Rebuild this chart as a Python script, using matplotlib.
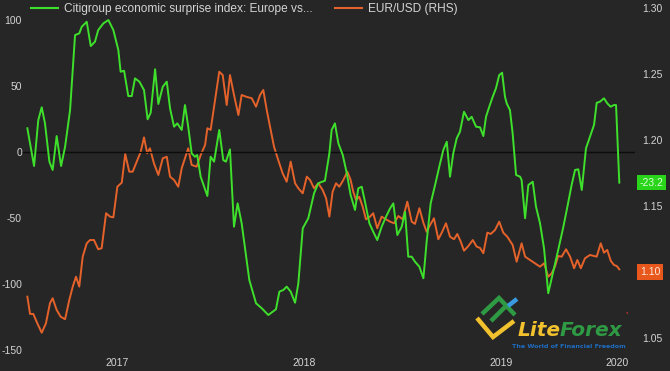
import matplotlib
matplotlib.use("Agg")
import matplotlib.pyplot as plt
from matplotlib.lines import Line2D

# Citigroup economic surprise index: Europe vs US (left axis)
esi_t = [2017.028, 2017.063, 2017.085, 2017.103, 2017.120, 2017.143, 2017.160, 2017.181, 2017.204, 2017.225,
         2017.251, 2017.277, 2017.299, 2017.312, 2017.338, 2017.359, 2017.381, 2017.398, 2017.425, 2017.451,
         2017.477, 2017.503, 2017.515, 2017.533, 2017.555, 2017.573, 2017.590, 2017.613, 2017.637, 2017.656,
         2017.672, 2017.695, 2017.712, 2017.735, 2017.756, 2017.773, 2017.794, 2017.811, 2017.834, 2017.851,
         2017.868, 2017.886, 2017.903, 2017.915, 2017.933, 2017.968, 2017.985, 2018.003, 2018.030, 2018.051,
         2018.065, 2018.086, 2018.107, 2018.126, 2018.147, 2018.187, 2018.222, 2018.252, 2018.286, 2018.326,
         2018.344, 2018.365, 2018.382, 2018.403, 2018.426, 2018.443, 2018.466, 2018.495, 2018.525, 2018.547,
         2018.582, 2018.605, 2018.617, 2018.634, 2018.652, 2018.675, 2018.696, 2018.716, 2018.739, 2018.756,
         2018.774, 2018.791, 2018.814, 2018.834, 2018.855, 2018.878, 2018.901, 2018.922, 2018.939, 2018.960,
         2018.983, 2019.000, 2019.017, 2019.035, 2019.052, 2019.075, 2019.096, 2019.113, 2019.134, 2019.157,
         2019.179, 2019.200, 2019.218, 2019.235, 2019.252, 2019.270, 2019.287, 2019.308, 2019.331, 2019.348,
         2019.371, 2019.392, 2019.409, 2019.423, 2019.440, 2019.458, 2019.475, 2019.492, 2019.507, 2019.522,
         2019.531, 2019.548, 2019.562, 2019.580, 2019.601, 2019.609, 2019.627, 2019.644, 2019.667, 2019.684,
         2019.705, 2019.726, 2019.748, 2019.774, 2019.800, 2019.827, 2019.848, 2019.870, 2019.888, 2019.905,
         2019.923, 2019.945, 2019.966, 2019.987, 2020.001, 2020.018, 2020.039, 2020.056, 2020.074, 2020.091,
         2020.102, 2020.119]
esi_v = [18.0, -10.6, 24.2, 33.9, 21.7, -7.3, -13.6, 12.1, -10.6, 4.0,
         31.8, 88.6, 89.9, 94.9, 98.7, 80.3, 83.6, 92.4, 97.5, 100.0,
         92.4, 77.3, 60.8, 61.6, 42.4, 42.4, 55.8, 53.3, 47.0, 24.8,
         29.8, 62.7, 36.4, 49.5, 53.3, 33.1, 19.2, 21.7, 16.7, 35.6,
         19.2, -1.0, -3.6, -2.3, -18.7, -33.3, -3.6, -7.3, 16.7, -6.1,
         -7.3, 2.0, -56.6, -38.9, -54.0, -97.0, -114.6, -118.4, -123.5, -119.2,
         -105.8, -104.5, -102.0, -105.8, -114.2, -99.5, -57.8, -50.2, -31.3, -23.7,
         -21.7, -1.0, 16.7, 21.7, 6.6, -2.3, -16.1, -32.6, -43.9, -27.5,
         -26.3, -37.7, -54.0, -60.4, -66.7, -56.6, -49.0, -42.7, -38.9, -62.9,
         -56.6, -45.2, -79.3, -79.3, -83.1, -86.9, -95.7, -68.0, -38.9, -25.0,
         -11.1, 1.5, 7.8, -18.7, -1.0, 10.4, 15.4, 30.5, 24.2, 26.7,
         19.2, 18.7, 12.1, 26.7, 34.3, 41.9, 48.3, 58.3, 60.1, 41.9,
         36.9, 31.8, 14.2, -17.4, -18.7, -21.2, -50.2, -25.0, -22.5, -41.4,
         -54.0, -73.0, -107.0, -90.7, -74.2, -56.6, -41.4, -25.0, -13.6, -13.1,
         -28.8, 2.8, 11.6, 20.5, 37.3, 38.1, 40.7, 36.9, 34.3, 35.6,
         35.6, -23.2]

# EUR/USD (right axis)
fx_t = [2017.028, 2017.042, 2017.059, 2017.080, 2017.103, 2017.125, 2017.146, 2017.160, 2017.181, 2017.202,
        2017.225, 2017.247, 2017.265, 2017.282, 2017.299, 2017.317, 2017.338, 2017.355, 2017.376, 2017.398,
        2017.416, 2017.439, 2017.460, 2017.477, 2017.498, 2017.521, 2017.539, 2017.560, 2017.578, 2017.599,
        2017.620, 2017.637, 2017.654, 2017.668, 2017.689, 2017.712, 2017.735, 2017.756, 2017.773, 2017.794,
        2017.816, 2017.834, 2017.868, 2017.886, 2017.912, 2017.933, 2017.956, 2017.968, 2017.985, 2018.013,
        2018.030, 2018.048, 2018.069, 2018.086, 2018.107, 2018.130, 2018.147, 2018.170, 2018.200, 2018.222,
        2018.243, 2018.260, 2018.278, 2018.295, 2018.316, 2018.338, 2018.361, 2018.382, 2018.403, 2018.426,
        2018.443, 2018.466, 2018.487, 2018.504, 2018.525, 2018.547, 2018.570, 2018.588, 2018.605, 2018.622,
        2018.640, 2018.657, 2018.678, 2018.699, 2018.716, 2018.730, 2018.744, 2018.761, 2018.779, 2018.796,
        2018.817, 2018.834, 2018.855, 2018.878, 2018.901, 2018.922, 2018.943, 2018.965, 2018.988, 2019.012,
        2019.035, 2019.052, 2019.075, 2019.096, 2019.113, 2019.131, 2019.151, 2019.174, 2019.192, 2019.214,
        2019.235, 2019.256, 2019.273, 2019.291, 2019.308, 2019.331, 2019.354, 2019.374, 2019.392, 2019.409,
        2019.430, 2019.448, 2019.470, 2019.492, 2019.513, 2019.534, 2019.562, 2019.583, 2019.609, 2019.627,
        2019.653, 2019.679, 2019.705, 2019.726, 2019.748, 2019.766, 2019.783, 2019.800, 2019.818, 2019.841,
        2019.862, 2019.883, 2019.900, 2019.918, 2019.940, 2019.966, 2019.987, 2020.001, 2020.022, 2020.039,
        2020.056, 2020.074, 2020.091, 2020.106, 2020.119]
fx_v = [1.0813, 1.0682, 1.0682, 1.0611, 1.0540, 1.0611, 1.0763, 1.0801, 1.0712, 1.0661,
        1.0642, 1.0788, 1.0889, 1.0964, 1.0889, 1.1116, 1.1217, 1.1242, 1.1242, 1.1172,
        1.1180, 1.1445, 1.1419, 1.1414, 1.1646, 1.1677, 1.1894, 1.1760, 1.1760, 1.1836,
        1.1911, 1.2020, 1.1899, 1.1937, 1.1823, 1.1735, 1.1861, 1.1873, 1.1722, 1.1697,
        1.1646, 1.1786, 1.1937, 1.1811, 1.1798, 1.1886, 1.1962, 1.2089, 1.2076, 1.2354,
        1.2517, 1.2492, 1.2265, 1.2492, 1.2341, 1.2189, 1.2341, 1.2328, 1.2316, 1.2252,
        1.2341, 1.2379, 1.2227, 1.2101, 1.1949, 1.1848, 1.1748, 1.1684, 1.1836, 1.1672,
        1.1634, 1.1596, 1.1722, 1.1697, 1.1634, 1.1672, 1.1621, 1.1558, 1.1419, 1.1608,
        1.1672, 1.1646, 1.1697, 1.1760, 1.1697, 1.1608, 1.1545, 1.1570, 1.1495, 1.1399,
        1.1419, 1.1445, 1.1331, 1.1419, 1.1399, 1.1381, 1.1369, 1.1424, 1.1399, 1.1533,
        1.1381, 1.1364, 1.1483, 1.1373, 1.1305, 1.1356, 1.1407, 1.1248, 1.1298, 1.1369,
        1.1267, 1.1248, 1.1288, 1.1230, 1.1161, 1.1197, 1.1242, 1.1192, 1.1182, 1.1142,
        1.1298, 1.1288, 1.1318, 1.1381, 1.1298, 1.1267, 1.1205, 1.1078, 1.1217, 1.1116,
        1.1091, 1.1066, 1.1040, 1.1066, 1.0964, 1.0990, 1.1040, 1.1121, 1.1116, 1.1172,
        1.1116, 1.1028, 1.1091, 1.1028, 1.1104, 1.1129, 1.1121, 1.1116, 1.1217, 1.1146,
        1.1167, 1.1086, 1.1053, 1.1045, 1.1020]

year_ticks = [2017.496, 2018.473, 2019.501, 2020.107]
year_labels = ["2017", "2018", "2019", "2020"]
left_ticks = [100, 50, 0, -50, -100, -150]
right_ticks = [1.05, 1.10, 1.15, 1.20, 1.25, 1.30]
fx_last_label = 1.10

BG = "#262626"
GREEN = "#3ee02c"
ORANGE = "#e5622a"
TXT = "#d4d4d4"

plt.rcParams["font.family"] = ["Liberation Sans", "DejaVu Sans"]

W, H = 670, 371
fig = plt.figure(figsize=(W / 100, H / 100), dpi=100, facecolor=BG)
# plot box in pixels: x 22..635, y 5..355
ax = fig.add_axes([22 / W, 1 - 355 / H, (635 - 22) / W, 350 / H], facecolor=BG)
ax2 = ax.twinx()

ax.set_xlim(2017.0, 2020.201)
ax.set_ylim(-153.8, 111.4)
ax2.set_ylim(1.0371, 1.30227)

ax.axhline(0, color="#0c0c0c", lw=1.0, zorder=1)
ax2.plot(fx_t, fx_v, color=ORANGE, lw=1.4, zorder=2)
ax.set_zorder(ax2.get_zorder() + 1)
ax.patch.set_visible(False)
ax.plot(esi_t, esi_v, color=GREEN, lw=1.4, zorder=3)

for a in (ax, ax2):
    for s in a.spines.values():
        s.set_visible(False)

ax.set_xticks(year_ticks)
ax.set_xticklabels(year_labels)
ax.set_yticks(left_ticks)
ax.set_yticklabels([str(v) for v in left_ticks])
ax2.set_yticks(right_ticks)
# the 1.10 label sits under the last-value box
ax2.set_yticklabels(["" if v == fx_last_label else "%.2f" % v for v in right_ticks])
ax.tick_params(axis="x", length=0, pad=2, labelsize=7.5, colors=TXT)
ax.tick_params(axis="y", length=0, pad=0, labelsize=7.5, colors=TXT)
ax2.tick_params(axis="y", length=0, pad=5, labelsize=7.5, colors=TXT)

# last value boxes on the right
ax.annotate("%.1f" % esi_v[-1], xy=(1.0, esi_v[-1]), xycoords=("axes fraction", "data"),
            xytext=(3, 0), textcoords="offset points", va="center", ha="left",
            fontsize=7.5, color="#d8ffd0",
            bbox=dict(boxstyle="square,pad=0.25", fc="#29d41a", ec="none"))
ax2.annotate("%.2f" % fx_last_label, xy=(1.0, fx_last_label), xycoords=("axes fraction", "data"),
             xytext=(3.6, 0), textcoords="offset points", va="center", ha="left",
             fontsize=7.5, color="#ffe8dc",
             bbox=dict(boxstyle="square,pad=0.25", fc="#e8581c", ec="none"))

# legend across the top
leg_handles = [Line2D([], [], color=GREEN, lw=1.5), Line2D([], [], color=ORANGE, lw=1.5)]
leg = fig.legend(leg_handles, ["Citigroup economic surprise index: Europe vs...", "EUR/USD (RHS)"],
                 loc="upper left", bbox_to_anchor=(31 / W, 1 - 3 / H), ncol=2, frameon=False,
                 fontsize=8.6, handlelength=2.3, handletextpad=0.5, columnspacing=1.8,
                 borderaxespad=0, borderpad=0)
for t in leg.get_texts():
    t.set_color(TXT)

# LiteForex watermark
px = lambda x, y: (x / W, 1 - y / H)
def stroke(pts, c):
    xs = [p[0] / W for p in pts]
    ys = [1 - p[1] / H for p in pts]
    fig.add_artist(Line2D(xs, ys, color=c, lw=3.2, solid_capstyle="butt", solid_joinstyle="miter"))

stroke([(477, 318), (493, 337), (514, 321)], "#f2c12e")
stroke([(482, 314), (499, 298), (515, 315)], "#2f9a44")
stroke([(491, 321), (505, 307)], "#2f9a44")
stroke([(508, 306), (517, 299)], "#3a9be0")
lite = fig.text(*px(518, 336), "Lite", fontsize=14.5, fontweight="bold", style="italic",
                color="#f2c12e", family="DejaVu Sans")
fig.canvas.draw()
fig.add_artist(plt.Annotation("Forex", xy=(1, 0), xycoords=lite, xytext=(-1, 0),
                              textcoords="offset points", va="bottom", ha="left",
                              fontsize=14.5, fontweight="bold", style="italic",
                              color="#2f9a44", family="DejaVu Sans"))
fig.text(*px(626, 313), "\u25cf", fontsize=3, color="#c03030")
fig.text(*px(512, 348), "The World of Financial Freedom", fontsize=4.6, fontweight="bold",
         color="#1e6cc0", family="DejaVu Sans")

fig.savefig("out.png", dpi=100, facecolor=BG)
